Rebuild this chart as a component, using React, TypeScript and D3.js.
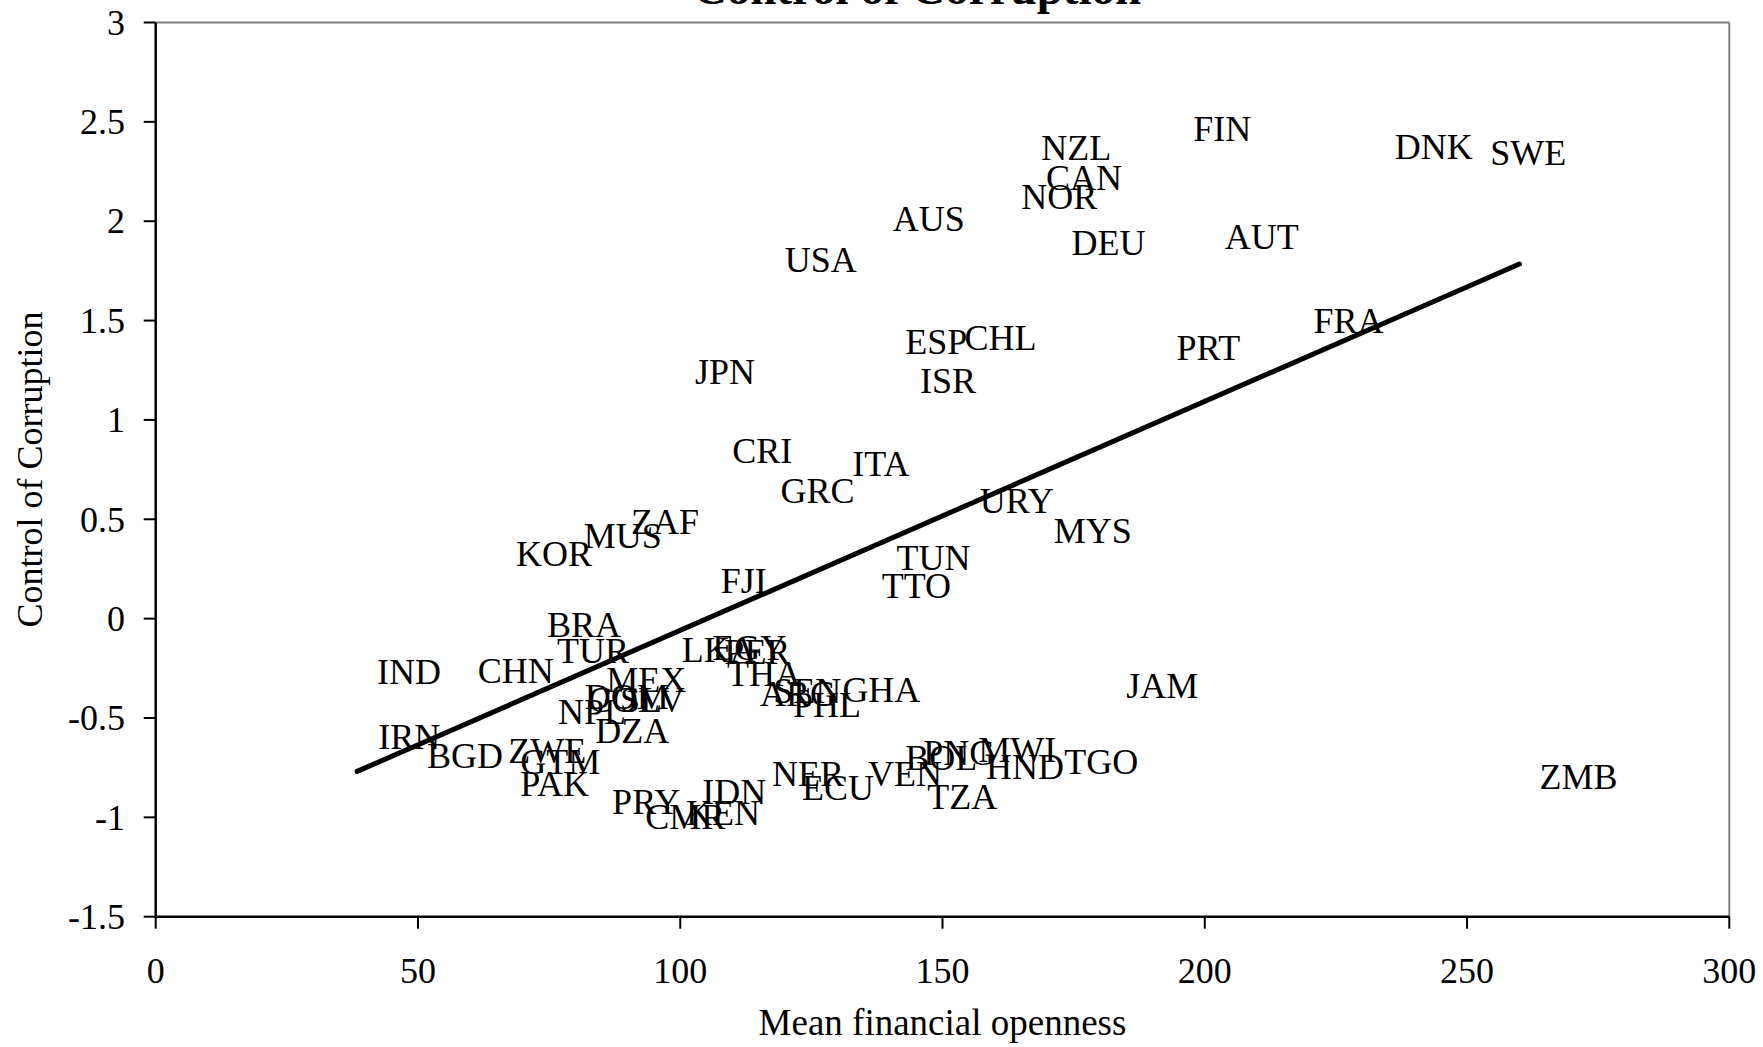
import React from "react";
import * as d3 from "d3";

// Country codes with mean financial openness (x) and control of corruption (y)
const countryCodes = [
  "NZL", "FIN", "DNK", "SWE", "CAN", "NOR", "AUS", "DEU", "AUT", "USA",
  "FRA", "PRT", "ESP", "CHL", "JPN", "ISR", "CRI", "ITA", "GRC", "URY",
  "MYS", "ZAF", "MUS", "KOR", "TUN", "FJI", "TTO", "JAM", "ZMB", "BRA",
  "TUR", "IND", "CHN", "MEX", "DOM", "COL", "SLV", "NPL", "DZA", "IRN",
  "BGD", "ZWE", "GTM", "PAK", "PRY", "CMR", "KEN", "IDN", "LKA", "EGY",
  "PER", "THA", "ARG", "SEN", "GHA", "PHL", "NER", "ECU", "VEN", "BOL",
  "PNG", "MWI", "HND", "TGO", "TZA",
];

const meanFinancialOpenness = [
  165.0, 194.0, 232.4, 250.6, 165.9, 161.2, 136.7, 170.8, 200.0, 116.1,
  216.9, 190.8, 139.1, 150.4, 99.0, 141.9, 106.1, 129.0, 115.3, 153.3,
  167.4, 86.8, 77.8, 64.9, 137.4, 103.9, 134.6, 181.2, 260.0, 70.8,
  72.7, 38.4, 57.6, 82.1, 78.0, 78.6, 84.7, 72.9, 80.0, 38.6,
  47.9, 63.4, 65.7, 65.7, 83.2, 89.5, 97.3, 100.4, 96.5, 102.3,
  104.6, 105.1, 111.4, 113.9, 127.1, 117.7, 113.7, 119.4, 132.0, 139.1,
  142.5, 153.0, 154.5, 169.4, 143.3,
];

const controlOfCorruption = [
  2.366, 2.463, 2.372, 2.344, 2.219, 2.123, 2.010, 1.891, 1.919, 1.806,
  1.495, 1.359, 1.393, 1.410, 1.240, 1.195, 0.844, 0.776, 0.640, 0.589,
  0.442, 0.488, 0.414, 0.324, 0.307, 0.188, 0.165, -0.339, -0.797, -0.032,
  -0.163, -0.269, -0.264, -0.309, -0.394, -0.409, -0.409, -0.470, -0.566, -0.596,
  -0.691, -0.666, -0.721, -0.832, -0.923, -0.998, -0.978, -0.872, -0.158, -0.148,
  -0.168, -0.279, -0.379, -0.364, -0.359, -0.435, -0.782, -0.852, -0.782, -0.701,
  -0.676, -0.661, -0.747, -0.721, -0.898,
];

const xTicks = [0, 50, 100, 150, 200, 250, 300];
const yTicks = [-1.5, -1, -0.5, 0, 0.5, 1, 1.5, 2, 2.5, 3];

// Fitted linear trend: corruption = intercept + slope * openness
const trendSlope = 0.011522;
const trendIntercept = -1.2113;

const W = 1763;
const H = 1047;
const box = { left: 155.7, right: 1729.3, top: 22.5, bottom: 916.7 };
const FONT = "'Liberation Serif', 'Times New Roman', Times, serif";

export default function App() {
  const x = d3.scaleLinear().domain([0, 300]).range([box.left, box.right]);
  const y = d3.scaleLinear().domain([-1.5, 3]).range([box.bottom, box.top]);

  const [xMin, xMax] = d3.extent(meanFinancialOpenness) as [number, number];
  const trendPath = d3.line()([
    [x(xMin), y(trendIntercept + trendSlope * xMin)],
    [x(xMax), y(trendIntercept + trendSlope * xMax)],
  ]);

  const cx = (box.left + box.right) / 2;
  const cy = (box.top + box.bottom) / 2;

  return (
    <div>
      <style>{`body{margin:0;background:#fff}`}</style>
      <svg width={W} height={H} style={{ display: "block", fontFamily: FONT }}>
        <rect width={W} height={H} fill="#fff" />

        {/* plot frame: grey top and right edges */}
        <line x1={box.left} x2={box.right} y1={box.top} y2={box.top} stroke="#808080" strokeWidth={2} />
        <line x1={box.right} x2={box.right} y1={box.top} y2={box.bottom} stroke="#808080" strokeWidth={2} />

        {/* y axis */}
        <line x1={box.left} x2={box.left} y1={box.top} y2={box.bottom + 1} stroke="#000" strokeWidth={2.5} />
        {yTicks.map((t) => (
          <g key={"y" + t}>
            <line x1={box.left - 12} x2={box.left} y1={y(t)} y2={y(t)} stroke="#000" strokeWidth={2} />
            <text x={125} y={y(t)} dy="0.34em" textAnchor="end" fontSize={36} fill="#000">
              {String(t)}
            </text>
          </g>
        ))}

        {/* x axis */}
        <line x1={box.left - 1} x2={box.right} y1={box.bottom} y2={box.bottom} stroke="#000" strokeWidth={2.5} />
        {xTicks.map((t) => (
          <g key={"x" + t}>
            <line x1={x(t)} x2={x(t)} y1={box.bottom} y2={box.bottom + 12} stroke="#000" strokeWidth={2} />
            <text x={x(t)} y={983} textAnchor="middle" fontSize={36} fill="#000">
              {String(t)}
            </text>
          </g>
        ))}

        {/* country labels */}
        {countryCodes.map((c, i) => (
          <text
            key={c}
            x={x(meanFinancialOpenness[i]) + 20}
            y={y(controlOfCorruption[i])}
            dy="0.33em"
            fontSize={36}
            fill="#000"
          >
            {c}
          </text>
        ))}

        {/* trend line */}
        <path d={trendPath ?? ""} fill="none" stroke="#000" strokeWidth={5} strokeLinecap="round" />

        {/* titles */}
        <text x={917} y={4} textAnchor="middle" fontSize={47} fontWeight="bold" fill="#000">
          Control of Corruption
        </text>
        <text x={cx} y={1035} textAnchor="middle" fontSize={37} fill="#000">
          Mean financial openness
        </text>
        <text
          transform={`translate(42,${cy}) rotate(-90)`}
          textAnchor="middle"
          fontSize={36}
          fill="#000"
        >
          Control of Corruption
        </text>
      </svg>
    </div>
  );
}
